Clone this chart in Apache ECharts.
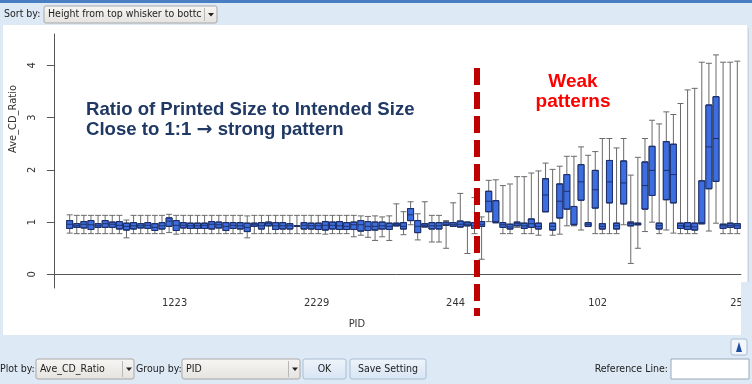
<!DOCTYPE html>
<html><head><meta charset="utf-8">
<script src="https://cdn.jsdelivr.net/npm/echarts@6/dist/echarts.min.js"></script>
<style>html,body{margin:0;padding:0;background:#dde9f5}#c{width:752px;height:384px}</style>
</head><body><div id="c"></div><script>
// ---- data (one entry per PID box, left to right) ----
const mins    = [0.79,0.78,0.78,0.78,0.78,0.78,0.78,0.78,0.70,0.78, 0.78,0.78,0.78,0.78,0.80,0.77,0.78,0.78,0.78,0.78, 0.78,0.78,0.78,0.78,0.78,0.70,0.78,0.78,0.78,0.78, 0.78,0.78,0.78,0.78,0.78,0.78,0.77,0.78,0.78,0.78, 0.72,0.75,0.71,0.65,0.72,0.65,0.93,0.76,0.95,0.66, 0.91,0.62,0.62,0.50,0.92,0.90,0.40,0.78,0.29,1.01, 0.99,0.78,0.78,0.90,0.78,0.78,0.75,1.20,0.75,0.77, 0.93,0.93,0.85,0.915,0.78,0.78,0.78,0.78,0.95,0.21, 0.50,0.82,1.00,0.78,0.85,0.79,0.78,0.78,0.78,0.97, 0.83,0.98,0.78,0.78,0.78];
const q1s     = [0.88,0.90,0.89,0.86,0.90,0.90,0.90,0.87,0.85,0.87, 0.89,0.88,0.84,0.87,0.92,0.84,0.89,0.88,0.88,0.88, 0.87,0.89,0.84,0.88,0.87,0.82,0.92,0.87,0.93,0.86, 0.87,0.87,0.92,0.87,0.87,0.86,0.85,0.87,0.86,0.86, 0.86,0.83,0.84,0.85,0.87,0.86,0.93,0.87,1.03,0.80, 0.91,0.87,0.87,0.94,0.92,0.91,0.93,0.88,0.92,1.20, 0.99,0.90,0.87,0.93,0.88,0.90,0.87,1.20,0.85,1.08, 1.25,0.95,1.42,0.92,1.27,0.87,1.37,0.87,1.35,0.93, 0.95,1.25,1.51,0.87,1.43,1.37,0.88,0.86,0.85,0.97, 1.64,1.78,0.88,0.90,0.88];
const medians = [0.96,0.93,0.96,0.95,0.93,0.97,0.96,0.94,0.92,0.93, 0.93,0.94,0.90,0.93,1.02,0.94,0.94,0.93,0.93,0.94, 0.96,0.95,0.92,0.94,0.93,0.90,0.95,0.93,0.97,0.93, 0.93,0.93,0.92,0.94,0.93,0.93,0.94,0.94,0.93,0.92, 0.95,0.95,0.92,0.92,0.93,0.92,0.95,0.92,1.14,0.92, 0.94,0.93,0.93,0.96,0.95,0.96,0.96,0.93,0.96,1.40, 1.01,0.95,0.91,0.97,0.93,0.97,0.92,1.52,0.92,1.40, 1.59,0.96,1.77,0.96,1.62,0.92,1.77,0.93,1.75,0.97, 0.97,1.70,1.99,0.93,1.99,1.91,0.93,0.92,0.91,0.99, 2.44,2.60,0.93,0.94,0.93];
const q3s     = [1.03,0.97,1.01,1.03,0.97,1.03,1.00,1.01,0.98,0.99, 0.97,0.99,0.97,0.99,1.08,1.03,0.99,0.98,0.98,0.98, 1.01,1.00,0.99,0.99,0.99,0.98,0.98,0.99,1.00,0.99, 0.99,0.97,0.93,0.99,0.98,0.98,1.01,1.00,1.01,0.99, 1.00,1.03,1.01,1.00,1.00,0.98,0.98,0.99,1.26,1.03, 0.97,0.99,0.99,1.00,0.99,1.02,1.00,0.99,1.01,1.59, 1.41,0.99,0.96,1.00,0.98,1.06,0.98,1.83,0.98,1.73, 1.91,1.30,2.10,0.99,1.99,0.97,2.18,0.98,2.17,1.00, 0.98,2.15,2.45,0.98,2.54,2.49,0.98,0.99,0.98,1.79, 3.24,3.40,0.96,0.98,0.97];
const maxs    = [1.14,1.13,1.13,1.13,1.13,1.13,1.13,1.13,1.04,1.13, 1.13,1.13,1.13,1.13,1.15,1.13,1.13,1.13,1.13,1.13, 1.13,1.13,1.13,1.13,1.13,1.12,1.13,1.13,1.13,1.13, 1.13,1.13,1.13,1.13,1.13,1.13,1.13,1.13,1.13,1.13, 1.13,1.12,1.11,1.12,1.10,1.12,1.35,1.20,1.39,1.16, 1.39,1.13,1.13,1.03,1.37,1.55,1.00,1.47,1.10,1.80, 1.81,1.70,1.73,1.87,1.87,1.94,1.98,2.13,2.01,2.07, 2.26,2.26,2.44,2.28,2.35,2.60,2.60,2.42,2.60,1.90, 2.24,2.60,2.95,2.88,3.11,3.06,3.27,3.53,3.56,4.06, 4.04,4.20,4.06,4.06,4.08];
const tickPids  = ['1223','2229','244','102','259'];
const tickBoxes = [13, 33, 53, 73, 93];
const yTicks    = [0, 1, 2, 3, 4];

// ---- layout helpers ----
const LEAD = 2;
const nCat = mins.length + LEAD;
const categories = [];
for (let k = 0; k < nCat; k++) {
  const t = tickBoxes.indexOf(k - LEAD);
  categories.push(t >= 0 ? tickPids[t] : '');
}
const isTick = (i) => tickBoxes.indexOf(i - LEAD) >= 0;
const whiskerData = mins.map((v, i) => [i + LEAD, mins[i], q1s[i], medians[i], q3s[i], maxs[i]]);
const boxData     = mins.map((v, i) => [i + LEAD, q1s[i], q1s[i], medians[i], q3s[i], q3s[i]]);

const AX = 'DejaVu Sans Condensed, Liberation Sans Narrow, DejaVu Sans, sans-serif';
const UI = 'DejaVu Sans Condensed, DejaVu Sans, sans-serif';
const UIF = '10.5px ' + UI;
const BIG = 'Liberation Sans, Arial, sans-serif';

function dropdown(x, y, w, h, label, divX) {
  return [
    {type:'rect', z:5, shape:{x:x, y:y, width:w, height:h, r:2}, style:{fill:{type:'linear',x:0,y:0,x2:0,y2:1,colorStops:[{offset:0,color:'#f7f6f4'},{offset:1,color:'#e4e3df'}]}, stroke:'#a7a7a7', lineWidth:1}},
    {type:'text', z:6, style:{x:x+4, y:y+h/2, text:label, font:UIF, fill:'#222', verticalAlign:'middle'}},
    {type:'line', z:6, shape:{x1:divX+0.5, y1:y+2, x2:divX+0.5, y2:y+h-2}, style:{stroke:'#b8b8b8', lineWidth:1}},
    {type:'polygon', z:6, shape:{points:[[divX+4, y+h/2-1.5],[divX+10, y+h/2-1.5],[divX+7, y+h/2+2]]}, style:{fill:'#222'}}
  ];
}
function button(x, y, w, h, label) {
  return [
    {type:'rect', z:5, shape:{x:x, y:y, width:w, height:h, r:2}, style:{fill:{type:'linear',x:0,y:0,x2:0,y2:1,colorStops:[{offset:0,color:'#eef4fb'},{offset:1,color:'#d7e5f3'}]}, stroke:'#aabed4', lineWidth:1}},
    {type:'text', z:6, style:{x:x+w/2, y:y+h/2, text:label, font:UIF, fill:'#222', align:'center', verticalAlign:'middle'}}
  ];
}

const graphics = [
  {type:'rect', z:-5, shape:{x:3, y:25, width:744, height:310}, style:{fill:'#ffffff'}},
  {type:'line', z:5, shape:{x1:748.5, y1:28, x2:748.5, y2:300}, style:{stroke:'#c9d3dd', lineWidth:1}},
  {type:'rect', z:5, shape:{x:741, y:282, width:11, height:53}, style:{fill:'#dde9f5'}},
  {type:'rect', z:5, shape:{x:0, y:0, width:752, height:3}, style:{fill:'#4a7ec2'}},
  {type:'text', z:6, style:{x:4, y:14.5, text:'Sort by:', font:UIF, fill:'#222', verticalAlign:'middle'}},
  ...dropdown(44, 6, 173, 17, 'Height from top whisker to bottc', 204),
  {type:'text', z:6, style:{x:0, y:369, text:'Plot by:', font:UIF, fill:'#222', verticalAlign:'middle'}},
  ...dropdown(36, 359, 98, 20, 'Ave_CD_Ratio', 122),
  {type:'text', z:6, style:{x:136, y:369, text:'Group by:', font:UIF, fill:'#222', verticalAlign:'middle'}},
  ...dropdown(182, 359, 118, 20, 'PID', 288),
  ...button(303, 359, 43, 20, 'OK'),
  ...button(350, 359, 76, 20, 'Save Setting'),
  {type:'text', z:6, style:{x:668, y:369, text:'Reference Line:', font:UIF, fill:'#222', align:'right', verticalAlign:'middle'}},
  {type:'rect', z:5, shape:{x:671, y:359, width:78, height:20}, style:{fill:'#ffffff', stroke:'#9aa9b8', lineWidth:1}},
  {type:'rect', z:5, shape:{x:731, y:339, width:16, height:16, r:2}, style:{fill:'#f3f7fc', stroke:'#a9bdd3', lineWidth:1}},
  {type:'polygon', z:6, shape:{points:[[739,342],[736,352],[742,352]]}, style:{fill:'#1d4fa0'}},
  // annotations
  {type:'text', z:20, style:{x:86, y:110, text:'Ratio of Printed Size to Intended Size', font:'bold 18.6px ' + BIG, fill:'#1f3864', verticalAlign:'middle'}},
  {type:'text', z:20, style:{x:86, y:130, text:'{a|Close to 1:1 }{b|\u2192}{a| strong pattern}', fill:'#1f3864', verticalAlign:'middle',
    rich:{a:{font:'bold 18.6px ' + BIG, fill:'#1f3864'}, b:{font:'bold 19px DejaVu Sans, sans-serif', fill:'#1f3864'}}}},
  {type:'text', z:20, style:{x:573, y:82, text:'Weak', font:'bold 19px ' + BIG, fill:'#ff0000', align:'center', verticalAlign:'middle'}},
  {type:'text', z:20, style:{x:573, y:102, text:'patterns', font:'bold 19px ' + BIG, fill:'#ff0000', align:'center', verticalAlign:'middle'}},
  {type:'line', z:20, shape:{x1:477, y1:68, x2:477, y2:316}, style:{stroke:'#c00000', lineWidth:6, lineDash:[17,7]}}
];

const chart = echarts.init(document.getElementById('c'), null, {renderer:'canvas'});
chart.setOption({
  animation: false,
  backgroundColor: '#dde9f5',
  grid: {left:46, right:11, top:34, bottom:96, containLabel:false},
  xAxis: [{
    type:'category', data:categories, boundaryGap:true,
    name:'PID', nameLocation:'middle', nameGap:31,
    nameTextStyle:{fontFamily:AX, fontSize:11, color:'#333', padding:[0,79,0,0]},
    axisLine:{lineStyle:{color:'#555', width:1}},
    axisTick:{alignWithLabel:true, length:8, interval:(i)=>isTick(i), lineStyle:{color:'#555'}},
    axisLabel:{interval:(i)=>isTick(i), align:'left', margin:10, fontFamily:AX, fontSize:11, color:'#333'},
    splitLine:{show:false}
  },{
    type:'category', data:categories, boundaryGap:true, show:false
  }],
  yAxis: {
    type:'value', min:-0.26, max:4.6, offset:-2,
    name:'Ave_CD_Ratio', nameLocation:'middle', nameGap:25,
    nameTextStyle:{fontFamily:AX, fontSize:11, color:'#333', padding:[0,0,0,84]},
    axisLine:{show:true, lineStyle:{color:'#555', width:1}},
    axisTick:{show:true, length:7, customValues:yTicks, lineStyle:{color:'#555'}},
    axisLabel:{rotate:90, margin:16, customValues:yTicks, fontFamily:AX, fontSize:11, color:'#333'},
    splitLine:{show:false}
  },
  series: [{
    type:'boxplot', xAxisIndex:0, yAxisIndex:0, data:whiskerData,
    encode:{x:0, y:[1,2,3,4,5]}, boxWidth:[6,6], silent:true,
    itemStyle:{color:'rgba(0,0,0,0)', borderColor:'#6a6a6a', borderWidth:1}
  },{
    type:'boxplot', xAxisIndex:1, yAxisIndex:0, data:boxData,
    encode:{x:0, y:[1,2,3,4,5]}, boxWidth:[6,6], silent:true,
    itemStyle:{color:'#3d6ee0', borderColor:'#1c2f6b', borderWidth:1}
  }],
  graphic: {elements: graphics}
});
</script></body></html>
